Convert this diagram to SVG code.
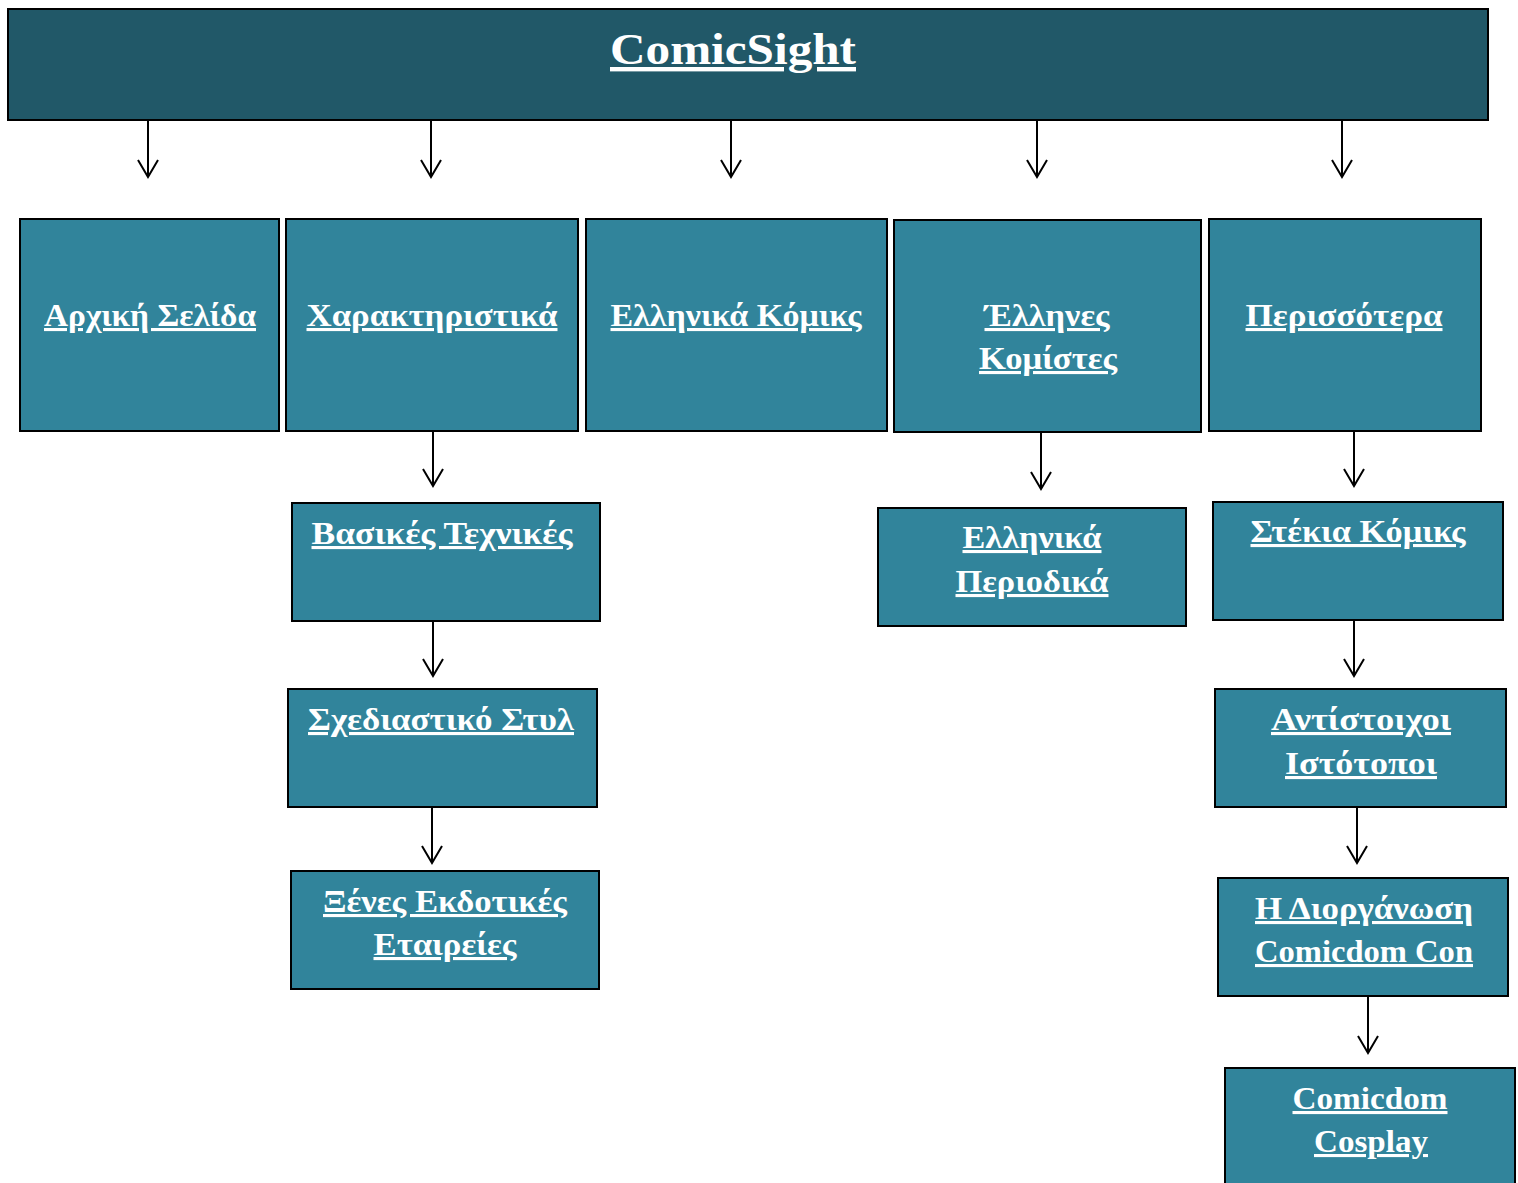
<svg xmlns="http://www.w3.org/2000/svg" width="1518" height="1183" viewBox="0 0 1518 1183">
<defs>
<style>
.top{fill:#215868;stroke:#000;stroke-width:2}
.box{fill:#31849B;stroke:#000;stroke-width:2}
text{font-family:"Liberation Serif","DejaVu Serif",serif;font-weight:bold;fill:#fff;text-anchor:middle;text-decoration:underline}
.t{font-size:31px}
.h{font-size:44px}
.c line{stroke:#000;stroke-width:2;fill:none}
</style>
<marker id="ah" markerWidth="20" markerHeight="22" refX="18" refY="11" orient="auto" markerUnits="userSpaceOnUse" viewBox="0 0 20 22">
<path d="M1,1 L18,11 L1,21" fill="none" stroke="#000" stroke-width="2"/>
</marker>
</defs>
<rect width="1518" height="1183" fill="#fff"/>
<g class="c">
<line x1="148" y1="121" x2="148" y2="177" marker-end="url(#ah)"/>
<line x1="431" y1="121" x2="431" y2="177" marker-end="url(#ah)"/>
<line x1="731" y1="121" x2="731" y2="177" marker-end="url(#ah)"/>
<line x1="1037" y1="121" x2="1037" y2="177" marker-end="url(#ah)"/>
<line x1="1342" y1="121" x2="1342" y2="177" marker-end="url(#ah)"/>
<line x1="433" y1="431" x2="433" y2="486" marker-end="url(#ah)"/>
<line x1="433" y1="621" x2="433" y2="676" marker-end="url(#ah)"/>
<line x1="432" y1="807" x2="432" y2="863" marker-end="url(#ah)"/>
<line x1="1041" y1="432" x2="1041" y2="489" marker-end="url(#ah)"/>
<line x1="1354" y1="431" x2="1354" y2="486" marker-end="url(#ah)"/>
<line x1="1354" y1="620" x2="1354" y2="676" marker-end="url(#ah)"/>
<line x1="1357" y1="807" x2="1357" y2="863" marker-end="url(#ah)"/>
<line x1="1368" y1="996" x2="1368" y2="1053" marker-end="url(#ah)"/>
</g>
<g id="comicsight"><rect class="top" x="8" y="9" width="1480" height="111"/><text class="h" x="733" y="64" textLength="246" lengthAdjust="spacingAndGlyphs">ComicSight</text></g>
<g id="arxiki"><rect class="box" x="20" y="219" width="259" height="212"/><text class="t" x="150" y="326" textLength="212" lengthAdjust="spacingAndGlyphs">Αρχική Σελίδα</text></g>
<g id="xaraktiristika"><rect class="box" x="286" y="219" width="292" height="212"/><text class="t" x="432" y="326" textLength="251" lengthAdjust="spacingAndGlyphs">Χαρακτηριστικά</text></g>
<g id="ellinika-komiks"><rect class="box" x="586" y="219" width="301" height="212"/><text class="t" x="736" y="326" textLength="251" lengthAdjust="spacingAndGlyphs">Ελληνικά Κόμικς</text></g>
<g id="ellines-komistes"><rect class="box" x="894" y="220" width="307" height="212"/><text class="t" x="1047" y="326" textLength="125" lengthAdjust="spacingAndGlyphs">Έλληνες</text><text class="t" x="1048" y="369" textLength="138" lengthAdjust="spacingAndGlyphs">Κομίστες</text></g>
<g id="perissotera"><rect class="box" x="1209" y="219" width="272" height="212"/><text class="t" x="1344" y="326" textLength="197" lengthAdjust="spacingAndGlyphs">Περισσότερα</text></g>
<g id="vasikes-texnikes"><rect class="box" x="292" y="503" width="308" height="118"/><text class="t" x="442" y="544" textLength="261" lengthAdjust="spacingAndGlyphs">Βασικές Τεχνικές</text></g>
<g id="sxediastiko-styl"><rect class="box" x="288" y="689" width="309" height="118"/><text class="t" x="441" y="730" textLength="266" lengthAdjust="spacingAndGlyphs">Σχεδιαστικό Στυλ</text></g>
<g id="xenes-ekdotikes"><rect class="box" x="291" y="871" width="308" height="118"/><text class="t" x="445" y="912" textLength="244" lengthAdjust="spacingAndGlyphs">Ξένες Εκδοτικές</text><text class="t" x="445" y="955" textLength="143" lengthAdjust="spacingAndGlyphs">Εταιρείες</text></g>
<g id="ellinika-periodika"><rect class="box" x="878" y="508" width="308" height="118"/><text class="t" x="1032" y="548" textLength="139" lengthAdjust="spacingAndGlyphs">Ελληνικά</text><text class="t" x="1032" y="592" textLength="153" lengthAdjust="spacingAndGlyphs">Περιοδικά</text></g>
<g id="stekia-komiks"><rect class="box" x="1213" y="502" width="290" height="118"/><text class="t" x="1358" y="542" textLength="215" lengthAdjust="spacingAndGlyphs">Στέκια Κόμικς</text></g>
<g id="antistoixoi"><rect class="box" x="1215" y="689" width="291" height="118"/><text class="t" x="1361" y="730" textLength="180" lengthAdjust="spacingAndGlyphs">Αντίστοιχοι</text><text class="t" x="1361" y="774" textLength="152" lengthAdjust="spacingAndGlyphs">Ιστότοποι</text></g>
<g id="diorganosi"><rect class="box" x="1218" y="878" width="290" height="118"/><text class="t" x="1364" y="919" textLength="218" lengthAdjust="spacingAndGlyphs">Η Διοργάνωση</text><text class="t" x="1364" y="962" textLength="218" lengthAdjust="spacingAndGlyphs">Comicdom Con</text></g>
<g id="cosplay"><rect class="box" x="1225" y="1068" width="290" height="130"/><text class="t" x="1370" y="1109" textLength="155" lengthAdjust="spacingAndGlyphs">Comicdom</text><text class="t" x="1371" y="1152" textLength="114" lengthAdjust="spacingAndGlyphs">Cosplay</text></g>
</svg>
